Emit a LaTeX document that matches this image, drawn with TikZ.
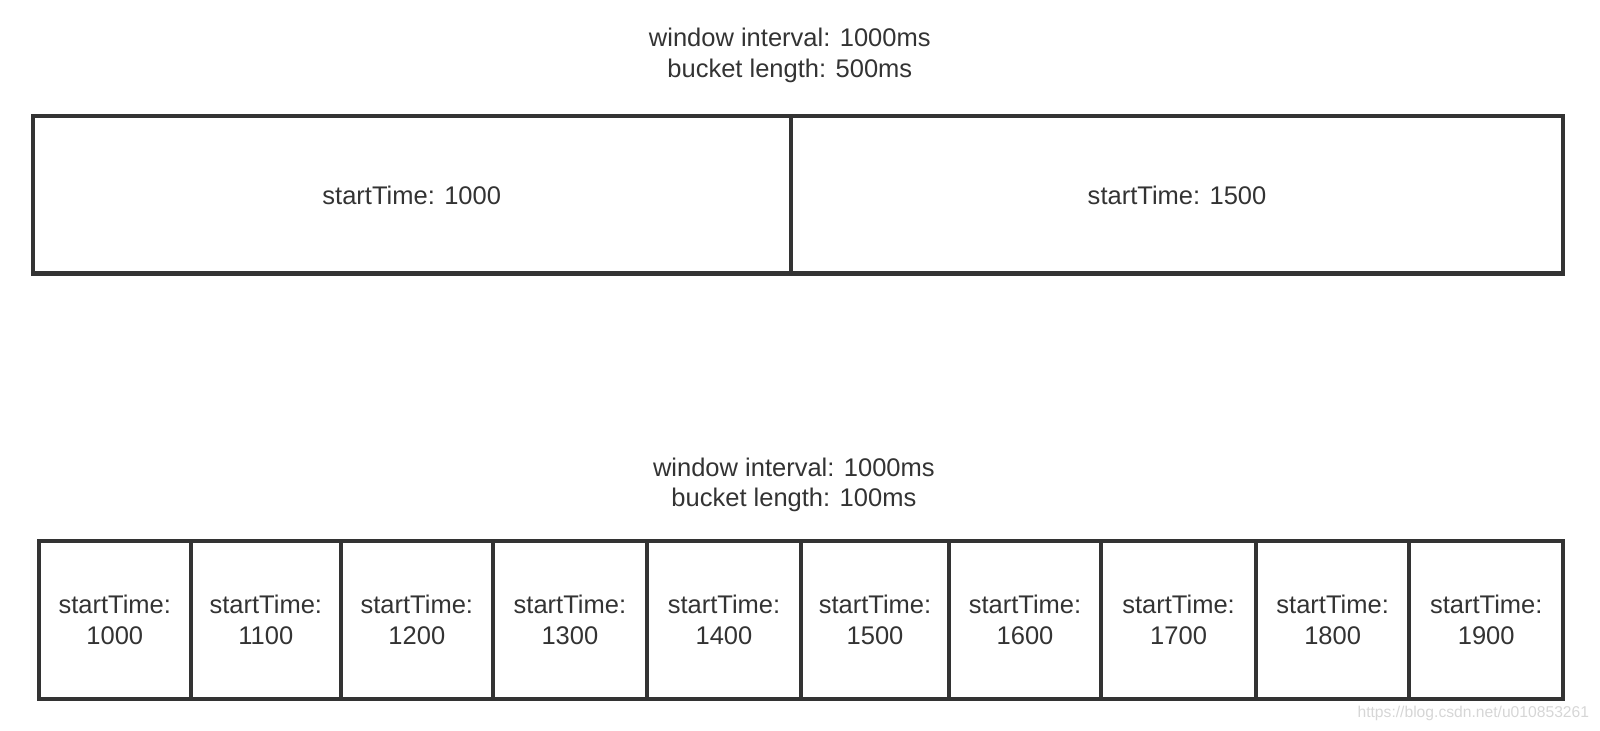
\documentclass[tikz,border=0pt]{standalone}
\usepackage{fontspec}
\setmainfont{Liberation Sans}
\definecolor{linegray}{HTML}{333333}
\definecolor{markgray}{HTML}{D6D6D6}
\begin{document}
\begin{tikzpicture}[x=0.0102cm, y=-0.0102cm,
    cell/.style={draw=linegray, line width=1.15pt, text=linegray, inner sep=0pt, align=center, font=\fontsize{7.25}{8.7}\selectfont},
    caption/.style={text=linegray, align=center, font=\fontsize{7.25}{8.7}\selectfont}]
    \useasboundingbox (0,0) rectangle (1568,715.4);

    % 500ms buckets
    \node[caption] (head1) at (774,54) {window interval: 1000ms\\bucket length: 500ms};
    \node[cell, minimum width=743*0.0102cm, minimum height=154*0.0102cm] (big1) at (403.5,191) {startTime: 1000};
    \node[cell, minimum width=757*0.0102cm, minimum height=154*0.0102cm] (big2) at (1153.5,191) {startTime: 1500};

    % 100ms buckets
    \node[caption] (head2) at (778,475) {window interval: 1000ms\\bucket length: 100ms};
    \foreach \i/\l/\r/\t in {1/38/187/1000, 2/187/334/1100, 3/334/483/1200, 4/483/634/1300, 5/634/785/1400,
                              6/785/930/1500, 7/930/1079/1600, 8/1079/1231/1700, 9/1231/1381/1800, 10/1381/1532/1900}
        \node[cell, minimum width={(\r-\l)*0.0102cm}, minimum height=155*0.0102cm] (small\i) at ({(\l+\r)/2},607.5) {startTime:\\\t};

    \node[text=markgray, font=\fontsize{4.45}{5}\selectfont, anchor=east, inner sep=0pt] (mark) at (1558,699) {https://blog.csdn.net/u010853261};
\end{tikzpicture}
\end{document}
